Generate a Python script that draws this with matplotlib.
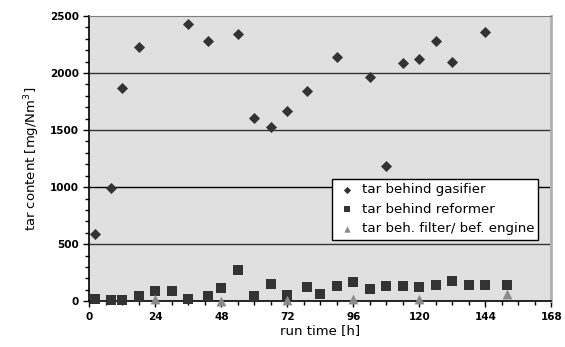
import matplotlib
matplotlib.use("Agg")
import matplotlib.pyplot as plt
from matplotlib.ticker import MultipleLocator

# Data
gas_t = [2, 8, 12, 18, 36, 43, 54, 60, 66, 72, 79, 90, 102, 108, 114, 120, 126, 132, 144]
gas_v = [585, 990, 1872, 2232, 2430, 2278, 2340, 1608, 1526, 1667, 1838, 2143, 1965, 1184, 2085, 2126, 2284, 2097, 2363]

ref_t = [2, 8, 12, 18, 24, 30, 36, 43, 48, 54, 60, 66, 72, 79, 84, 90, 96, 102, 108, 114, 120, 126, 132, 138, 144, 152]
ref_v = [17, 10, 10, 47, 85, 85, 15, 47, 114, 272, 47, 155, 50, 123, 61, 129, 164, 108, 129, 129, 123, 140, 175, 140, 140, 146]

eng_t = [24, 48, 72, 96, 120, 152]
eng_v = [15, 5, 8, 15, 20, 61]

labels = ["tar behind gasifier", "tar behind reformer", "tar beh. filter/ bef. engine"]
xticks = [0, 24, 48, 72, 96, 120, 144, 168]
yticks = [0, 500, 1000, 1500, 2000, 2500]

plt.rcParams['font.family'] = ['DejaVu Sans']
fig = plt.figure(figsize=(5.65, 3.47), dpi=100)
ax = fig.add_axes([0.158, 0.132, 0.818, 0.822])
ax.set_facecolor('#e0e0e0')

for yv in yticks[1:-1]:
    ax.axhline(yv, color='#333333' if yv != 1000 else '#000000', lw=1.0, zorder=1)

ax.scatter(gas_t, gas_v, marker='D', s=32, color='#333333', zorder=3, label=labels[0],
           linewidths=0, clip_on=False)
ax.scatter(ref_t, ref_v, marker='s', s=48, color='#333333', zorder=3, label=labels[1],
           linewidths=0, clip_on=False)
ax.scatter(eng_t, eng_v, marker='^', s=50, color='#8a8a8a', zorder=4, label=labels[2],
           linewidths=0, clip_on=False)

ax.set_xlim(0, 168)
ax.set_ylim(0, 2500)
ax.set_xticks(xticks)
ax.set_yticks(yticks)
ax.xaxis.set_minor_locator(MultipleLocator(6))
ax.yaxis.set_minor_locator(MultipleLocator(100))
ax.tick_params(axis='both', which='both', direction='out', color='black', width=1)
ax.tick_params(axis='both', which='major', length=4, labelsize=7.5)
ax.tick_params(axis='both', which='minor', length=3)
for lab in ax.get_xticklabels() + ax.get_yticklabels():
    lab.set_fontweight('bold')

ax.spines['left'].set_color('black')
ax.spines['bottom'].set_color('black')
ax.spines['left'].set_linewidth(1.2)
ax.spines['bottom'].set_linewidth(1.2)
ax.spines['top'].set_color('#808080')
ax.spines['right'].set_color('#b0b0b0')
ax.spines['right'].set_linewidth(2)

ax.set_xlabel('run time [h]', fontsize=9.5, labelpad=2)
ax.set_ylabel('tar content [mg/Nm$^3$]', fontsize=9.5, labelpad=6)

leg = ax.legend(loc='upper left', bbox_to_anchor=(0.525, 0.429), fontsize=9.6,
                frameon=True, fancybox=False, edgecolor='black', framealpha=1,
                markerscale=0.65, handletextpad=0.3, borderpad=0.32, labelspacing=0.5,
                handlelength=1.6, borderaxespad=0)
leg.get_frame().set_linewidth(1.0)
leg.set_zorder(5)

fig.savefig('out.png', dpi=100)
